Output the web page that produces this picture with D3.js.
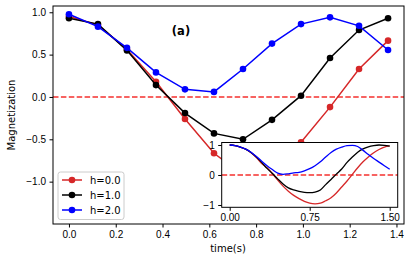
<!DOCTYPE html>
<html>
<head>
<meta charset="utf-8">
<script src="https://cdn.jsdelivr.net/npm/d3@7"></script>
<style>
  body { margin: 0; background: #fff; }
  svg { font-family: "DejaVu Sans", sans-serif; }
  .axis path, .axis line { stroke: #000; }
  .axis text { fill: #000; font-size: 10px; }
</style>
</head>
<body>
<div id="chart"></div>
<script>
// main plot data
var times = [0, 0.124, 0.248, 0.372, 0.496, 0.62, 0.744, 0.868, 0.992, 1.116, 1.24, 1.364];
var mag_h0 = [0.95, 0.85, 0.56, 0.18, -0.26, -0.665, -0.92, -0.88, -0.535, -0.12, 0.33, 0.665];
var mag_h1 = [0.93, 0.86, 0.55, 0.14, -0.19, -0.43, -0.5, -0.27, 0.015, 0.46, 0.79, 0.93];
var mag_h2 = [0.977, 0.83, 0.58, 0.29, 0.09, 0.06, 0.33, 0.63, 0.86, 0.94, 0.84, 0.555];
var series_labels = ["h=0.0", "h=1.0", "h=2.0"];
var x_ticks = [0, 0.2, 0.4, 0.6, 0.8, 1.0, 1.2, 1.4];
var y_ticks = [-1, -0.5, 0, 0.5, 1];

// inset data (finer time grid)
var inset_times = [0, 0.05, 0.1, 0.15, 0.2, 0.25, 0.3, 0.35, 0.4, 0.45, 0.5, 0.55, 0.6, 0.65, 0.7, 0.75,
  0.8, 0.85, 0.9, 0.95, 1.0, 1.05, 1.1, 1.15, 1.2, 1.25, 1.3, 1.35, 1.4, 1.45, 1.5];
var inset_h0 = [1.0, 0.98, 0.93, 0.86, 0.74, 0.58, 0.38, 0.24, 0.05, -0.17, -0.37, -0.54, -0.68, -0.79, -0.88, -0.94,
  -0.96, -0.94, -0.86, -0.76, -0.6, -0.4, -0.2, 0.02, 0.24, 0.44, 0.6, 0.74, 0.85, 0.93, 0.97];
var inset_h1 = [1.0, 0.98, 0.93, 0.86, 0.75, 0.6, 0.42, 0.22, 0.05, -0.13, -0.3, -0.43, -0.5, -0.55, -0.58, -0.59,
  -0.57, -0.5, -0.32, -0.15, 0.03, 0.2, 0.42, 0.6, 0.76, 0.87, 0.94, 0.98, 1.0, 0.99, 0.96];
var inset_h2 = [1.0, 0.98, 0.93, 0.86, 0.76, 0.62, 0.46, 0.31, 0.18, 0.06, 0.02, 0.04, 0.07, 0.09, 0.14, 0.21,
  0.31, 0.44, 0.6, 0.75, 0.86, 0.93, 0.98, 0.99, 0.95, 0.82, 0.68, 0.55, 0.43, 0.31, 0.19];
var inset_x_ticks = [0, 0.75, 1.5];
var inset_y_ticks = [-1, 0, 1];

var colors = ["#d62728", "#000000", "#0000ff"];
var zero_color = "#f5302e";

var width = 411, height = 262;
var minus = function(s) { return s.replace("-", "\u2212"); };

var svg = d3.select("#chart").append("svg")
  .attr("width", width)
  .attr("height", height);

// main axes
var x = d3.scaleLinear().domain([-0.0682, 1.4322]).range([53, 404]);
var y = d3.scaleLinear().domain([-1.5, 1.074]).range([224, 6]);

var main_series = [mag_h0, mag_h1, mag_h2].map(function(vals, i) {
  return { label: series_labels[i], color: colors[i], values: vals.map(function(v, j) {
    return { t: times[j], v: v };
  }) };
});

svg.append("g").attr("class", "axis")
  .attr("transform", "translate(0,224)")
  .call(d3.axisBottom(x).tickValues(x_ticks).tickFormat(d3.format(".1f"))
    .tickSize(3.5).tickPadding(3.5).tickSizeOuter(0))
  .select(".domain").remove();

svg.append("g").attr("class", "axis")
  .attr("transform", "translate(53,0)")
  .call(d3.axisLeft(y).tickValues(y_ticks).tickFormat(function(d) { return minus(d3.format(".1f")(d)); })
    .tickSize(3.5).tickPadding(3.5).tickSizeOuter(0))
  .select(".domain").remove();

// zero line
svg.append("line")
  .attr("x1", 53).attr("x2", 404)
  .attr("y1", y(0)).attr("y2", y(0))
  .attr("stroke", zero_color).attr("stroke-width", 1.5)
  .attr("stroke-dasharray", "5.5,2.4");

var line = d3.line()
  .x(function(d) { return x(d.t); })
  .y(function(d) { return y(d.v); });

var groups = svg.selectAll(".series")
  .data(main_series)
  .enter()
  .append("g")
  .attr("class", "series");

groups.append("path")
  .attr("d", function(d) { return line(d.values); })
  .attr("fill", "none")
  .attr("stroke", function(d) { return d.color; })
  .attr("stroke-width", 1.5);

groups.selectAll("circle")
  .data(function(d) { return d.values.map(function(p) { return { t: p.t, v: p.v, color: d.color }; }); })
  .enter()
  .append("circle")
  .attr("cx", function(d) { return x(d.t); })
  .attr("cy", function(d) { return y(d.v); })
  .attr("r", 3.3)
  .attr("fill", function(d) { return d.color; });

// frame
svg.append("rect")
  .attr("x", 53).attr("y", 6)
  .attr("width", 351).attr("height", 218)
  .attr("fill", "none").attr("stroke", "#000").attr("stroke-width", 1);

// title + labels
svg.append("text")
  .attr("x", 181).attr("y", 35)
  .attr("text-anchor", "middle")
  .style("font-size", "11.5px").style("font-weight", "bold")
  .text("(a)");

svg.append("text")
  .attr("transform", "translate(15,115) rotate(-90)")
  .attr("text-anchor", "middle")
  .style("font-size", "10px")
  .text("Magnetization");

svg.append("text")
  .attr("x", 228).attr("y", 252)
  .attr("text-anchor", "middle")
  .style("font-size", "10px")
  .text("time(s)");

// legend
var legend = svg.append("g").attr("transform", "translate(58,172)");
legend.append("rect")
  .attr("width", 66).attr("height", 47.5)
  .attr("rx", 2.5)
  .attr("fill", "#fff").attr("fill-opacity", 0.8)
  .attr("stroke", "#ccc").attr("stroke-width", 1);

var items = legend.selectAll(".item")
  .data(main_series)
  .enter()
  .append("g")
  .attr("transform", function(d, i) { return "translate(0," + (8 + i * 15) + ")"; });

items.append("line")
  .attr("x1", 4).attr("x2", 24)
  .attr("stroke", function(d) { return d.color; })
  .attr("stroke-width", 1.5);
items.append("circle")
  .attr("cx", 14).attr("r", 3.3)
  .attr("fill", function(d) { return d.color; });
items.append("text")
  .attr("x", 32).attr("y", 3.6)
  .style("font-size", "10px")
  .text(function(d) { return d.label; });

// inset
var ix = d3.scaleLinear().domain([-0.075, 1.575]).range([221.7, 397.7]);
var iy = d3.scaleLinear().domain([-1.077, 1.083]).range([207.3, 142.5]);

var inset = svg.append("g").attr("class", "inset");
inset.append("rect")
  .attr("x", 221.7).attr("y", 142.5)
  .attr("width", 176).attr("height", 64.8)
  .attr("fill", "#fff");

inset.append("g").attr("class", "axis")
  .attr("transform", "translate(0,207.3)")
  .call(d3.axisBottom(ix).tickValues(inset_x_ticks).tickFormat(d3.format(".2f"))
    .tickSize(3.5).tickPadding(3.5).tickSizeOuter(0))
  .select(".domain").remove();

inset.append("g").attr("class", "axis")
  .attr("transform", "translate(221.7,0)")
  .call(d3.axisLeft(iy).tickValues(inset_y_ticks).tickFormat(function(d) { return minus(d3.format("d")(d)); })
    .tickSize(3.5).tickPadding(3.5).tickSizeOuter(0))
  .select(".domain").remove();

inset.append("line")
  .attr("x1", 221.7).attr("x2", 397.7)
  .attr("y1", iy(0)).attr("y2", iy(0))
  .attr("stroke", zero_color).attr("stroke-width", 1.5)
  .attr("stroke-dasharray", "5.5,2.4");

var inset_line = d3.line()
  .curve(d3.curveMonotoneX)
  .x(function(d) { return ix(d.t); })
  .y(function(d) { return iy(d.v); });

inset.selectAll(".iline")
  .data([inset_h0, inset_h1, inset_h2])
  .enter()
  .append("path")
  .attr("d", function(vals) {
    return inset_line(vals.map(function(v, j) { return { t: inset_times[j], v: v }; }));
  })
  .attr("fill", "none")
  .attr("stroke", function(d, i) { return colors[i]; })
  .attr("stroke-width", 1.3);

inset.append("rect")
  .attr("x", 221.7).attr("y", 142.5)
  .attr("width", 176).attr("height", 64.8)
  .attr("fill", "none").attr("stroke", "#000").attr("stroke-width", 1);
</script>
</body>
</html>
